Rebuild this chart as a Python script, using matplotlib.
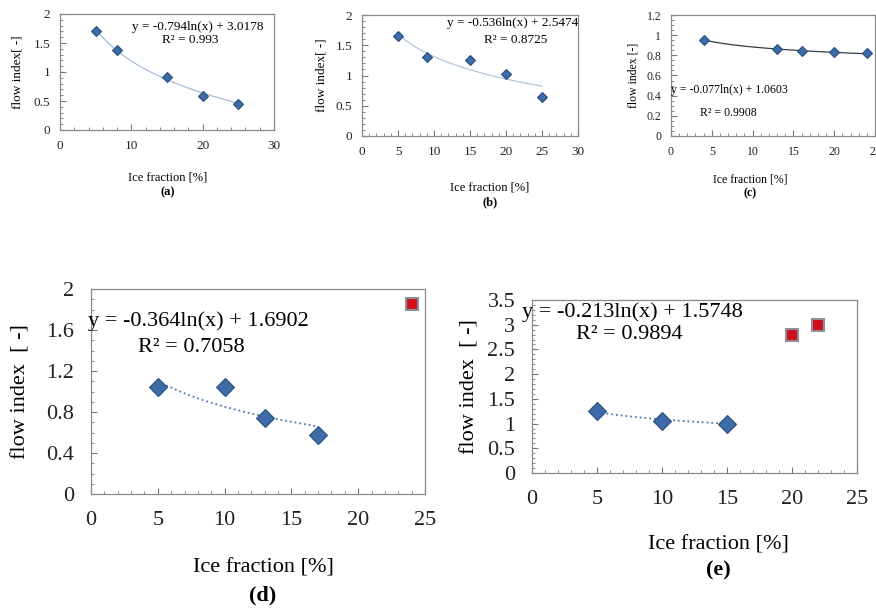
import numpy as np
import matplotlib.pyplot as plt
from matplotlib.ticker import MultipleLocator, FuncFormatter

plt.rcParams['font.family'] = ['Liberation Serif', 'DejaVu Serif']

# (a)
xa = [5, 8, 15, 20, 25]
ya = [1.70, 1.38, 0.92, 0.58, 0.45]
fit_a = (-0.794, 3.0178)
# (b)
xb = [5, 9, 15, 20, 25]
yb = [1.65, 1.30, 1.25, 1.03, 0.65]
fit_b = (-0.536, 2.5474)
# (c)
xc = [4, 13, 16, 20, 24]
yc = [0.95, 0.86, 0.845, 0.835, 0.82]
fit_c = (-0.077, 1.0603)
# (d)
xd = [5, 10, 13, 17]
yd = [1.04, 1.04, 0.74, 0.58]
xd_out = [24]
yd_out = [1.85]
fit_d = (-0.364, 1.6902)
# (e)
xe = [5, 10, 15]
ye = [1.25, 1.06, 1.00]
xe_out = [20, 22]
ye_out = [2.80, 3.00]
fit_e = (-0.213, 1.5748)

W, H = 876, 608
fig = plt.figure(figsize=(W / 100, H / 100), dpi=100)
fmt = FuncFormatter(lambda v, p: '%g' % round(v, 3))


def add_ax(l, t, r, b):
    return fig.add_axes([l / W, 1 - b / H, (r - l) / W, (b - t) / H])


def style(ax, fs, pad, xmax, xstep, ymax, ystep, xminor, yminor):
    ax.set_xlim(0, xmax)
    ax.set_ylim(0, ymax)
    ax.xaxis.set_major_locator(MultipleLocator(xstep))
    ax.yaxis.set_major_locator(MultipleLocator(ystep))
    ax.xaxis.set_minor_locator(MultipleLocator(xminor))
    ax.yaxis.set_minor_locator(MultipleLocator(yminor))
    ax.xaxis.set_major_formatter(fmt)
    ax.yaxis.set_major_formatter(fmt)
    ax.tick_params(which='both', direction='in', colors='#777777',
                   labelcolor='#222222', labelsize=fs, pad=pad)
    ax.tick_params(which='major', length=4, width=0.8)
    ax.tick_params(which='minor', length=2.5, width=0.6)
    for s in ax.spines.values():
        s.set_color('#8a8a8a')
        s.set_linewidth(0.9)


def trend(ax, x, coef, ls, color, lw):
    xs = np.linspace(min(x), max(x), 100)
    ax.plot(xs, coef[0] * np.log(xs) + coef[1], ls, color=color, lw=lw, zorder=2)


def diamonds(ax, x, y, ms):
    ax.plot(x, y, 'D', ms=ms, color='#3d6ca8', mec='#2a4f80', mew=0.8, zorder=3)


def squares(ax, x, y, ms):
    ax.plot(x, y, 's', ms=ms, color='#d0101a', mec='#8f8f9a', mew=1.5, zorder=3)


def eq_text(c):
    return 'y = %sln(x) + %s' % (c[0], c[1])


def ylab(ax, text, fs, xpx, l, r):
    # xpx is the label's right edge in figure pixels
    ax.set_ylabel(text, fontsize=fs)
    ax.yaxis.set_label_coords((xpx - l) / (r - l), 0.5)


# ---- small panels ----
sfs = 9.5
ax = add_ax(60, 14, 274, 130)
style(ax, sfs, 7, 30, 10, 2, 0.5, 2, 0.1)
trend(ax, xa, fit_a, '-', '#9ab8d8', 0.8)
diamonds(ax, xa, ya, 5)
ax.text(0.95, 0.89, eq_text(fit_a), transform=ax.transAxes, ha='right', va='center', fontsize=sfs)
ax.text(0.61, 0.78, 'R² = 0.993', transform=ax.transAxes, ha='center', va='center', fontsize=sfs)
ylab(ax, 'flow index[ -]', sfs, 23, 60, 274)
fig.text(168 / W, 1 - 177 / H, 'Ice fraction [%]', ha='center', va='center', fontsize=9)
fig.text(168 / W, 1 - 192 / H, '(a)', ha='center', va='center', fontsize=9, weight='bold')

ax = add_ax(362, 15, 578, 136)
style(ax, sfs, 7, 30, 5, 2, 0.5, 1, 0.1)
trend(ax, xb, fit_b, '-', '#a9c0d8', 0.8)
diamonds(ax, xb, yb, 5)
ax.text(1.0, 0.93, eq_text(fit_b), transform=ax.transAxes, ha='right', va='center', fontsize=sfs)
ax.text(0.71, 0.79, 'R² = 0.8725', transform=ax.transAxes, ha='center', va='center', fontsize=sfs)
ylab(ax, 'flow index[ -]', sfs, 328, 362, 578)
fig.text(490 / W, 1 - 187 / H, 'Ice fraction [%]', ha='center', va='center', fontsize=9)
fig.text(490 / W, 1 - 202 / H, '(b)', ha='center', va='center', fontsize=9, weight='bold')

ax = add_ax(671, 15, 875, 136)
style(ax, sfs - 1, 7, 25, 5, 1.2, 0.2, 1, 0.05)
trend(ax, xc, fit_c, '-', '#333d48', 0.9)
diamonds(ax, xc, yc, 5)
ax.text(0.0, 0.38, eq_text(fit_c), transform=ax.transAxes, ha='left', va='center', fontsize=sfs - 1)
ax.text(0.28, 0.19, 'R² = 0.9908', transform=ax.transAxes, ha='center', va='center', fontsize=sfs - 1)
ylab(ax, 'flow index [-]', sfs - 1, 640, 671, 875)
fig.text(750 / W, 1 - 180 / H, 'Ice fraction [%]', ha='center', va='center', fontsize=8.5)
fig.text(750 / W, 1 - 193 / H, '(c)', ha='center', va='center', fontsize=8.5, weight='bold')

# ---- large panels ----
lfs = 16
ax = add_ax(91, 289, 425, 494)
style(ax, lfs, 12, 25, 5, 2, 0.4, 1, 0.1)
trend(ax, xd, fit_d, ':', '#4d77b0', 1.3)
diamonds(ax, xd, yd, 9)
squares(ax, xd_out, yd_out, 8)
ax.text(-0.01, 0.845, eq_text(fit_d), transform=ax.transAxes, ha='left', va='center', fontsize=lfs)
ax.text(0.30, 0.717, 'R² = 0.7058', transform=ax.transAxes, ha='center', va='center', fontsize=lfs)
ylab(ax, 'flow index  [ -]', lfs, 31, 91, 425)
fig.text(263 / W, 1 - 568 / H, 'Ice fraction [%]', ha='center', va='center', fontsize=lfs)
fig.text(263 / W, 1 - 595 / H, '(d)', ha='center', va='center', fontsize=lfs, weight='bold')

ax = add_ax(532, 300, 857, 473)
style(ax, lfs, 12, 25, 5, 3.5, 0.5, 1, 0.1)
trend(ax, xe, fit_e, ':', '#4d77b0', 1.3)
diamonds(ax, xe, ye, 9)
squares(ax, xe_out, ye_out, 8)
ax.text(-0.03, 0.93, eq_text(fit_e), transform=ax.transAxes, ha='left', va='center', fontsize=lfs)
ax.text(0.3, 0.8, 'R² = 0.9894', transform=ax.transAxes, ha='center', va='center', fontsize=lfs)
ylab(ax, 'flow index  [ -]', lfs, 479, 532, 857)
fig.text(718 / W, 1 - 545 / H, 'Ice fraction [%]', ha='center', va='center', fontsize=lfs)
fig.text(718 / W, 1 - 570 / H, '(e)', ha='center', va='center', fontsize=lfs, weight='bold')

fig.savefig('out.png', dpi=100)
